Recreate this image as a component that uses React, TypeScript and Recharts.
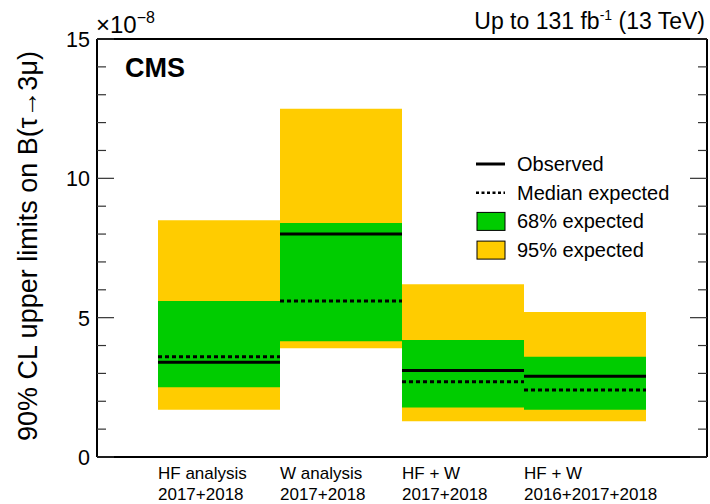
import { ComposedChart, ReferenceArea, ReferenceLine, XAxis, YAxis } from "recharts";

// analyses shown as bins
const labelTop = ["HF analysis", "W analysis", "HF + W", "HF + W"];
const labelBottom = ["2017+2018", "2017+2018", "2017+2018", "2016+2017+2018"];

// limits in units of 1e-8
const band95Low = [1.7, 3.9, 1.28, 1.28];
const band95High = [8.5, 12.5, 6.2, 5.2];
const band68Low = [2.5, 4.15, 1.78, 1.7];
const band68High = [5.6, 8.4, 4.2, 3.6];
const observed = [3.4, 8.0, 3.1, 2.9];
const medianExpected = [3.6, 5.6, 2.7, 2.4];

const yTicks = [0, 1, 2, 3, 4, 5, 6, 7, 8, 9, 10, 11, 12, 13, 14, 15];
const legendLabels = ["Observed", "Median expected", "68% expected", "95% expected"];

const YELLOW = "#ffcc00";
const GREEN = "#00cc00";
const FONT = "'Liberation Sans', Arial, Helvetica, sans-serif";

const rows = labelTop.map((_, i) => ({ x: i + 1, lo: band95Low[i], hi: band95High[i] }));
const binStarts = labelTop.map((_, i) => i + 0.5);

const LeftTick = (props: any) => {
  const { x, y, payload } = props;
  const major = payload.value % 5 === 0;
  return (
    <g>
      <line x1={x} x2={x + (major ? 17 : 9)} y1={y} y2={y} stroke="#333" strokeWidth={1.2} />
      {major && (
        <text x={x - 7} y={y + 8} textAnchor="end" fontSize={21.5} fontFamily={FONT} fill="#000">
          {payload.value}
        </text>
      )}
    </g>
  );
};

const RightTick = (props: any) => {
  const { x, y, payload } = props;
  const major = payload.value % 5 === 0;
  return <line x1={x} x2={x - (major ? 17 : 9)} y1={y} y2={y} stroke="#333" strokeWidth={1.2} />;
};

const BinTick = (props: any) => {
  const { x, y, payload } = props;
  const i = Math.round(payload.value - 0.5);
  return (
    <text x={x} fontSize={17} fontFamily={FONT} fill="#000">
      <tspan x={x} y={y + 22}>{labelTop[i]}</tspan>
      <tspan x={x} y={y + 43}>{labelBottom[i]}</tspan>
    </text>
  );
};

function Overlay() {
  return (
    <svg width={710} height={504} style={{ position: "absolute", left: 0, top: 0, pointerEvents: "none" }}>
      <text x={96} y={33} fontSize={24} fontFamily={FONT}>
        ×10
        <tspan fontSize={16} dy={-10}>−8</tspan>
      </text>
      <text x={705} y={29} textAnchor="end" fontSize={23} fontFamily={FONT}>
        Up to 131 fb
        <tspan fontSize={14} dy={-9}>-1</tspan>
        <tspan dy={9}> (13 TeV)</tspan>
      </text>
      <text x={125} y={77} fontSize={27} fontWeight="bold" fontFamily={FONT}>CMS</text>
      <text
        transform="translate(37,246) rotate(-90)"
        textAnchor="middle"
        fontSize={27}
        fontFamily={FONT}
      >
        90% CL upper limits on B(τ→3μ)
      </text>
      {legendLabels.map((lab, i) => {
        const cy = 164 + i * 28.7;
        return (
          <g key={lab}>
            {i === 0 && <line x1={476} x2={505} y1={cy} y2={cy} stroke="#000" strokeWidth={3} />}
            {i === 1 && (
              <line x1={476} x2={505} y1={cy} y2={cy} stroke="#000" strokeWidth={2.5} strokeDasharray="3 2.5" />
            )}
            {i > 1 && (
              <rect x={477} y={cy - 9} width={28} height={18} fill={i === 2 ? GREEN : YELLOW} stroke="#000" strokeWidth={1} />
            )}
            <text x={517} y={cy + 7} fontSize={20} fontFamily={FONT}>{lab}</text>
          </g>
        );
      })}
    </svg>
  );
}

export default function App() {
  return (
    <div style={{ position: "absolute", left: 0, top: 0, width: 710, height: 504, background: "#fff" }}>
      <ComposedChart width={710} height={504} data={rows} margin={{ top: 39, right: 0, bottom: 0, left: 0 }}>
        <XAxis
          dataKey="x"
          type="number"
          domain={[0, 5]}
          ticks={binStarts}
          allowDataOverflow
          height={47}
          tickSize={0}
          tickMargin={0}
          tickLine={false}
          tick={<BinTick />}
          axisLine={{ stroke: "#000", strokeWidth: 2 }}
        />
        <YAxis
          yAxisId="left"
          type="number"
          domain={[0, 15]}
          ticks={yTicks}
          width={97}
          allowDataOverflow
          tickSize={0}
          tickMargin={0}
          tickLine={false}
          tick={<LeftTick />}
          axisLine={{ stroke: "#000", strokeWidth: 2 }}
        />
        <YAxis
          yAxisId="right"
          orientation="right"
          type="number"
          domain={[0, 15]}
          ticks={yTicks}
          width={3}
          allowDataOverflow
          tickSize={0}
          tickMargin={0}
          tickLine={false}
          tick={<RightTick />}
          axisLine={{ stroke: "#000", strokeWidth: 2 }}
        />
        {band95Low.map((lo, i) => (
          <ReferenceArea
            key={"y" + i}
            yAxisId="left"
            x1={i + 0.5}
            x2={i + 1.5}
            y1={lo}
            y2={band95High[i]}
            fill={YELLOW}
            fillOpacity={1}
            stroke="none"
          />
        ))}
        {band68Low.map((lo, i) => (
          <ReferenceArea
            key={"g" + i}
            yAxisId="left"
            x1={i + 0.5}
            x2={i + 1.5}
            y1={lo}
            y2={band68High[i]}
            fill={GREEN}
            fillOpacity={1}
            stroke="none"
          />
        ))}
        {medianExpected.map((v, i) => (
          <ReferenceLine
            key={"m" + i}
            yAxisId="left"
            segment={[{ x: i + 0.5, y: v }, { x: i + 1.5, y: v }]}
            stroke="#000"
            strokeWidth={3}
            strokeDasharray="4 3"
          />
        ))}
        {observed.map((v, i) => (
          <ReferenceLine
            key={"o" + i}
            yAxisId="left"
            segment={[{ x: i + 0.5, y: v }, { x: i + 1.5, y: v }]}
            stroke="#000"
            strokeWidth={3}
          />
        ))}
        <ReferenceLine yAxisId="left" y={15} stroke="#000" strokeWidth={2} />
      </ComposedChart>
      <Overlay />
    </div>
  );
}
